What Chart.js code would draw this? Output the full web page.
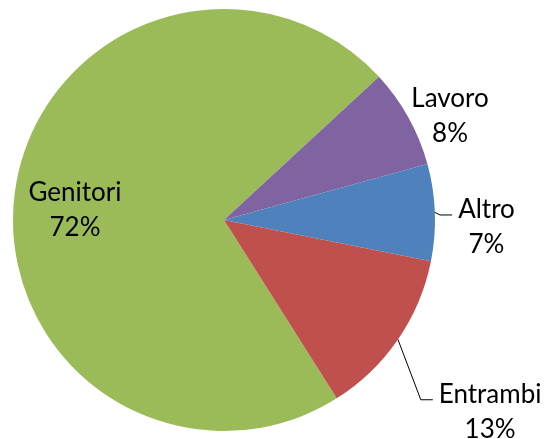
<!DOCTYPE html>
<html>
<head>
<meta charset="utf-8">
<script src="https://cdn.jsdelivr.net/npm/chart.js@4"></script>
<style>
html,body{margin:0;padding:0;background:#fff;}
#c{display:block;}
</style>
</head>
<body>
<canvas id="c" width="544" height="439"></canvas>
<script>
const categories = ["Genitori", "Lavoro", "Altro", "Entrambi"];
const values = [72.1, 7.6, 7.4, 12.9];
const percentLabels = ["72%", "8%", "7%", "13%"];
const colors = ["#9BBB59", "#8064A2", "#4F81BD", "#C0504D"];

// label placement relative to each slice's mid angle: [angle offset deg, radius factor, leader line]
const labelPlacement = [[-0.2, 0.712, false], [2.46, 1.198, false], [1.62, 1.244, true], [0.0, 1.53, true]];

const labelPlugin = {
  id: 'sliceLabels',
  afterDraw(chart) {
    const ctx = chart.ctx;
    const meta = chart.getDatasetMeta(0);
    ctx.save();
    ctx.font = '26px Lato';
    ctx.fillStyle = '#000';
    ctx.textAlign = 'center';
    ctx.textBaseline = 'alphabetic';
    meta.data.forEach((arc, i) => {
      const p = arc.getProps(['x','y','startAngle','endAngle','outerRadius'], true);
      const mid = (p.startAngle + p.endAngle) / 2;
      const [off, fac, leader] = labelPlacement[i];
      const a = mid + off * Math.PI / 180;
      const lx = p.x + Math.cos(a) * p.outerRadius * fac;
      const ly = p.y + Math.sin(a) * p.outerRadius * fac;
      ctx.fillText(categories[i], lx, ly);
      ctx.fillText(percentLabels[i], lx, ly + 35);
      if (leader) {
        const w = ctx.measureText(categories[i]).width;
        const left = lx - w / 2;
        const sx = p.x + Math.cos(mid) * p.outerRadius;
        const sy = p.y + Math.sin(mid) * p.outerRadius;
        ctx.beginPath();
        ctx.strokeStyle = '#000';
        ctx.lineWidth = 1;
        ctx.moveTo(sx, sy);
        ctx.lineTo(left - 18, ly - 3);
        ctx.lineTo(left - 6, ly - 3);
        ctx.stroke();
      }
    });
    ctx.restore();
  }
};

new Chart(document.getElementById('c'), {
  type: 'pie',
  data: {
    labels: categories,
    datasets: [{
      data: values,
      backgroundColor: colors,
      borderWidth: 0
    }]
  },
  options: {
    responsive: false,
    animation: false,
    rotation: 147.7,
    layout: { padding: { left: 13, right: 109, top: 9, bottom: 8 } },
    plugins: { legend: { display: false }, tooltip: { enabled: false } }
  },
  plugins: [labelPlugin]
});
</script>
</body>
</html>
